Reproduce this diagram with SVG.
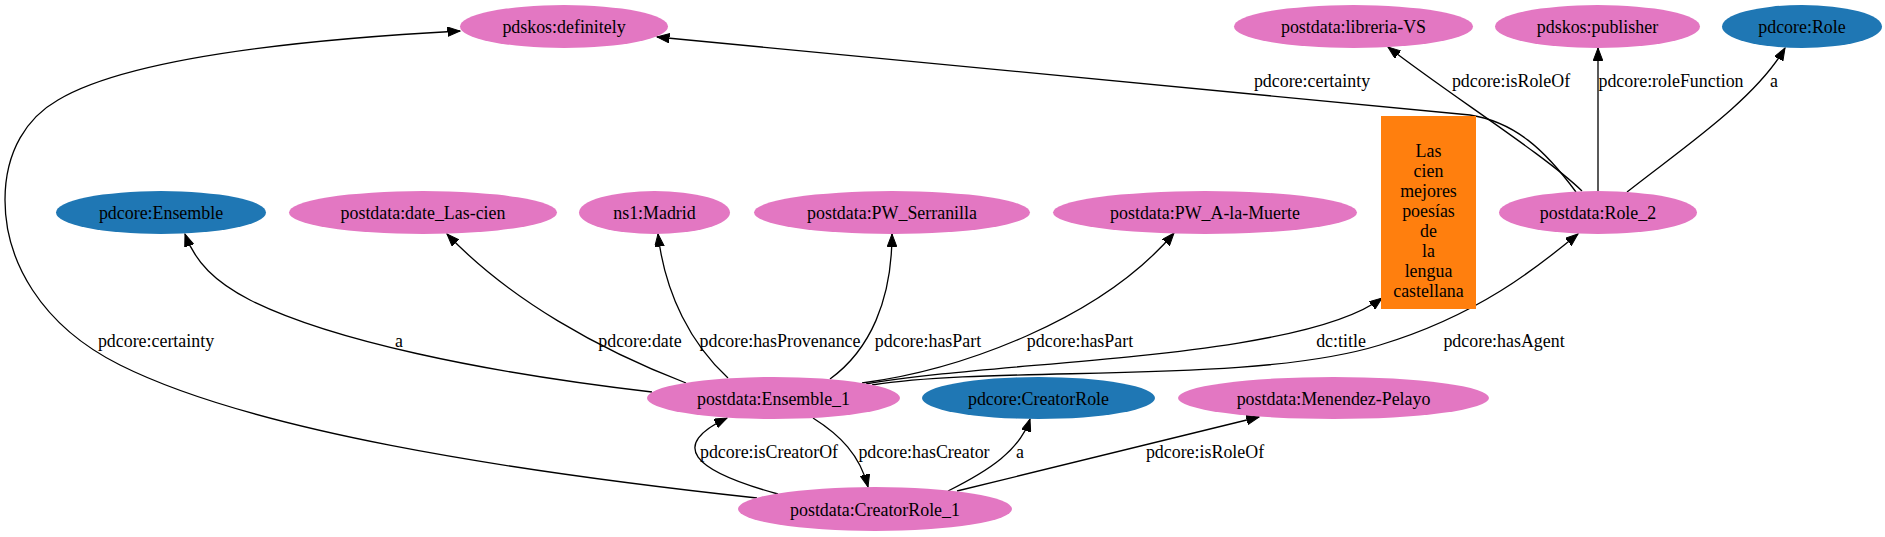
<svg xmlns="http://www.w3.org/2000/svg" width="1885" height="537" viewBox="0 0 1885 537">
<style>
.e{fill:none;stroke:#000;stroke-width:1.3;marker-end:url(#ah)}
.t{font-family:"Liberation Serif","Times New Roman",serif;font-size:17.9px;fill:#000;text-anchor:middle}
.pink{fill:#e377c2}
.blue{fill:#1f77b4}
.orange{fill:#ff7f0e}
</style>
<defs>
<marker id="ah" markerUnits="userSpaceOnUse" markerWidth="14" markerHeight="10" refX="12.5" refY="4.75" orient="auto">
<path d="M0,0 L12.5,4.75 L0,9.5 z" fill="#000" stroke="#000" stroke-width="1"/>
</marker>
</defs>
<rect width="1885" height="537" fill="#fff"/>
<g id="connectors">
<path class="e" d="M757,498 C500,470 250,430 120,365 C40,325 5,260 5,200 C5,150 28,117 58,100 C100,75 200,45 460,31"/>
<text class="t" x="156" y="347">pdcore:certainty</text>
<path class="e" d="M652,392 C480,372 330,340 250,300 C215,282 195,262 185,234"/>
<text class="t" x="399" y="347">a</text>
<path class="e" d="M686,383 C600,350 510,300 447,234"/>
<text class="t" x="640" y="347">pdcore:date</text>
<path class="e" d="M728,378 C692,345 665,295 658,234"/>
<text class="t" x="780" y="347">pdcore:hasProvenance</text>
<path class="e" d="M830,379 C870,350 892,300 892,234"/>
<text class="t" x="928" y="347">pdcore:hasPart</text>
<path class="e" d="M862,383 C960,370 1100,320 1174,233"/>
<text class="t" x="1080" y="347">pdcore:hasPart</text>
<path class="e" d="M866,384 C1000,360 1300,360 1382,298"/>
<text class="t" x="1341" y="347">dc:title</text>
<path class="e" d="M872,385 C1000,365 1250,385 1380,345 C1480,315 1540,265 1578,234"/>
<text class="t" x="1504" y="347">pdcore:hasAgent</text>
<path class="e" d="M1576,192 C1545,150 1515,122 1470,115 L657,37"/>
<text class="t" x="1312" y="87">pdcore:certainty</text>
<path class="e" d="M1582,191 C1545,155 1450,95 1388,47"/>
<text class="t" x="1511" y="87">pdcore:isRoleOf</text>
<path class="e" d="M1598,191 L1598,48"/>
<text class="t" x="1671" y="87">pdcore:roleFunction</text>
<path class="e" d="M1627,192 C1680,150 1755,100 1785,48"/>
<text class="t" x="1774" y="87">a</text>
<path class="e" d="M778,494 C690,470 670,445 727,418"/>
<text class="t" x="769" y="458">pdcore:isCreatorOf</text>
<path class="e" d="M813,418 C840,435 860,455 868,487"/>
<text class="t" x="924" y="458">pdcore:hasCreator</text>
<path class="e" d="M948,491 C990,470 1020,450 1030,419"/>
<text class="t" x="1020" y="458">a</text>
<path class="e" d="M957,491 L1259,417"/>
<text class="t" x="1205" y="458">pdcore:isRoleOf</text>
</g>
<g id="n_definitely"><ellipse class="pink" cx="564" cy="26.5" rx="104" ry="21.5"/><text class="t" x="564" y="33">pdskos:definitely</text></g>
<g id="n_libreria"><ellipse class="pink" cx="1353.5" cy="26.5" rx="119.5" ry="21.5"/><text class="t" x="1353.5" y="33">postdata:libreria-VS</text></g>
<g id="n_publisher"><ellipse class="pink" cx="1597.5" cy="26.5" rx="102.5" ry="21.5"/><text class="t" x="1597.5" y="33">pdskos:publisher</text></g>
<g id="n_role"><ellipse class="blue" cx="1802" cy="26.5" rx="80" ry="21.5"/><text class="t" x="1802" y="33">pdcore:Role</text></g>
<g id="n_ensemble"><ellipse class="blue" cx="161" cy="212.5" rx="105" ry="21.5"/><text class="t" x="161" y="219">pdcore:Ensemble</text></g>
<g id="n_date"><ellipse class="pink" cx="423" cy="212.5" rx="134" ry="21.5"/><text class="t" x="423" y="219">postdata:date_Las-cien</text></g>
<g id="n_madrid"><ellipse class="pink" cx="654.5" cy="212.5" rx="75.5" ry="21.5"/><text class="t" x="654.5" y="219">ns1:Madrid</text></g>
<g id="n_serranilla"><ellipse class="pink" cx="892" cy="212.5" rx="138" ry="21.5"/><text class="t" x="892" y="219">postdata:PW_Serranilla</text></g>
<g id="n_muerte"><ellipse class="pink" cx="1205" cy="212.5" rx="152" ry="21.5"/><text class="t" x="1205" y="219">postdata:PW_A-la-Muerte</text></g>
<g id="n_title"><rect class="orange" x="1381" y="116" width="95" height="193"/>
<text class="t" x="1428.5" y="157">Las</text>
<text class="t" x="1428.5" y="177">cien</text>
<text class="t" x="1428.5" y="197">mejores</text>
<text class="t" x="1428.5" y="217">poesías</text>
<text class="t" x="1428.5" y="237">de</text>
<text class="t" x="1428.5" y="257">la</text>
<text class="t" x="1428.5" y="277">lengua</text>
<text class="t" x="1428.5" y="297">castellana</text>
</g>
<g id="n_role2"><ellipse class="pink" cx="1598" cy="212.5" rx="99" ry="21.5"/><text class="t" x="1598" y="219">postdata:Role_2</text></g>
<g id="n_ensemble1"><ellipse class="pink" cx="773.5" cy="398" rx="126.5" ry="21"/><text class="t" x="773.5" y="404.5">postdata:Ensemble_1</text></g>
<g id="n_creatorrole"><ellipse class="blue" cx="1038.5" cy="398" rx="116.5" ry="21"/><text class="t" x="1038.5" y="404.5">pdcore:CreatorRole</text></g>
<g id="n_menendez"><ellipse class="pink" cx="1333.5" cy="398" rx="155.5" ry="21"/><text class="t" x="1333.5" y="404.5">postdata:Menendez-Pelayo</text></g>
<g id="n_creatorrole1"><ellipse class="pink" cx="875" cy="509" rx="137" ry="22"/><text class="t" x="875" y="515.5">postdata:CreatorRole_1</text></g>
</svg>
